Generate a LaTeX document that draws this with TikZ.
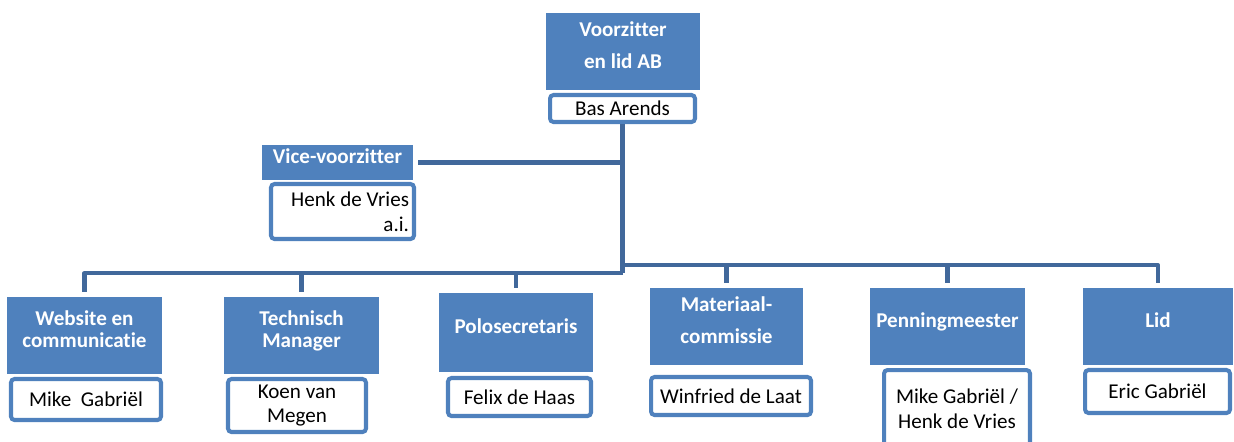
\documentclass[tikz,border=0pt]{standalone}
\usepackage{fontspec}
\setmainfont{Carlito}[Ligatures={NoCommon}]
\definecolor{boxblue}{RGB}{79,129,189}
\definecolor{lineblue}{RGB}{65,104,155}

\begin{document}
\begin{tikzpicture}[x=0.02cm, y=-0.02cm,
  role/.style={fill=boxblue, text=white, font=\fontsize{12}{12.5}\selectfont\bfseries, align=center, inner sep=2pt, text depth=0.26cm},
  person/.style={draw=boxblue, line width=2.3pt, rounded corners=2pt, fill=white, text=black, font=\fontsize{12}{14}\selectfont, align=center, inner sep=1pt},
  link/.style={draw=lineblue, line width=2.3pt, line join=round}]
\useasboundingbox (0,0) rectangle (1234,441);
\clip (0,0) rectangle (1234,441);

\node[role, minimum width=3.08cm, minimum height=1.54cm] (voorz) at (623,51.5) {Voorzitter\\[5.5pt] en lid AB};
\node[person, minimum width=2.90cm, minimum height=0.54cm] (bas) at (622.5,108.5) {Bas Arends};

\node[role, minimum width=3.02cm, minimum height=0.70cm] (vice) at (337.5,162.5) {Vice-voorzitter};
\node[person, text width=2.66cm, inner xsep=0.1cm, minimum height=1.10cm, align=flush right] (henk) at (342.5,211.5) {Henk de Vries\\a.i.};

\node[role, minimum width=3.10cm, minimum height=1.54cm] (web) at (84.5,335.5) {Website en\\communicatie};
\node[person, minimum width=3.00cm, minimum height=0.82cm] (mike) at (86,399.5) {Mike~ Gabriël};

\node[role, minimum width=3.10cm, minimum height=1.54cm] (tech) at (301.5,335.5) {Technisch\\Manager};
\node[person, minimum width=2.76cm, minimum height=1.06cm] (koen) at (297,405.5) {Koen van\\Megen};

\node[role, minimum width=3.08cm, minimum height=1.58cm] (polo) at (516,332.5) {Polosecretaris};
\node[person, minimum width=2.86cm, minimum height=0.76cm] (felix) at (519.5,397) {Felix de Haas};

\node[role, minimum width=3.06cm, minimum height=1.54cm] (mat) at (726.5,326.5) {Materiaal-\\[5.5pt]commissie};
\node[person, minimum width=3.20cm, minimum height=0.76cm] (winfried) at (731,396) {Winfried de Laat};

\node[role, minimum width=3.10cm, minimum height=1.54cm] (penn) at (947.5,326.5) {Penningmeester};
\node[person, minimum width=2.92cm, minimum height=1.56cm] (mikehenk) at (957,409) {Mike Gabriël /\\Henk de Vries};

\node[role, minimum width=3.00cm, minimum height=1.54cm] (lid) at (1158,326.5) {Lid};
\node[person, minimum width=2.90cm, minimum height=0.86cm] (eric) at (1157.5,391.5) {Eric Gabriël};

\coordinate (split) at (622.5,270);
\draw[link, line width=2.8pt] (bas.south) -- ([yshift=-0.06cm]split);
\draw[link] ([xshift=0.1cm]vice.east) -- (vice.east -| split);
\draw[link] ([yshift=0.1cm]web.north) |- ([yshift=-0.06cm]split);
\draw[link] ([yshift=0.1cm]tech.north) |- ([yshift=-0.06cm]split);
\draw[link] ([yshift=0.1cm]polo.north) |- ([yshift=-0.06cm]split);
\draw[link] ([yshift=0.1cm]mat.north) |- ([yshift=0.1cm]split);
\draw[link] ([yshift=0.1cm]penn.north) |- ([yshift=0.1cm]split);
\draw[link] ([yshift=0.1cm]lid.north) |- ([yshift=0.1cm]split);

\end{tikzpicture}
\end{document}
